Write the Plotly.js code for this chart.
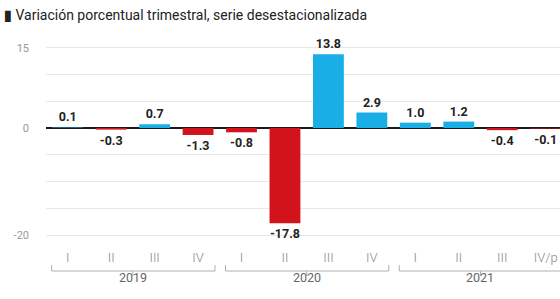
<!DOCTYPE html>
<html><head><meta charset="utf-8">
<script src="https://cdn.plot.ly/plotly-3.0.1.min.js"></script>
<style>html,body{margin:0;padding:0;background:#fff}#c{width:560px;height:299px}</style>
</head><body><div id="c"></div>
<script>
const quarters = ['I','II','III','IV','I','II','III','IV','I','II','III','IV/p'];
const values = [0.1,-0.3,0.7,-1.3,-0.8,-17.8,13.8,2.9,1.0,1.2,-0.4,-0.1];
const years = ['2019','2020','2021'];
const labels = ['0.1','-0.3','0.7','-1.3','-0.8','-17.8','13.8','2.9','1.0','1.2','-0.4','-0.1'];
const yTickVals = [-20,-15,-10,-5,0,5,10,15];
const yTickText = ['-20','','','','0','','','15'];

const idx = quarters.map((q,i)=>i);
const colors = values.map(v => v >= 0 ? '#19aee6' : '#d2131c');

const shapes = [];
const annotations = [];
years.forEach((yr, k) => {
  const a = k*4 - 0.37, b = k*4 + 3 + 0.39, mid = k*4 + 1.5;
  const ln = {color:'#b0b0b0', width:1};
  shapes.push({type:'line', xref:'x', yref:'paper', x0:a, x1:b, y0:-0.155, y1:-0.155, line:ln});
  shapes.push({type:'line', xref:'x', yref:'paper', x0:a, x1:a, y0:-0.155, y1:-0.125, line:ln});
  shapes.push({type:'line', xref:'x', yref:'paper', x0:b, x1:b, y0:-0.155, y1:-0.125, line:ln});
  shapes.push({type:'line', xref:'x', yref:'paper', x0:mid, x1:mid, y0:-0.155, y1:-0.18, line:ln});
  annotations.push({text:yr, xref:'x', yref:'paper', x:mid, y:-0.235, showarrow:false,
    font:{family:'Roboto', size:12.5, color:'#666'}});
});

annotations.push({text:'<b>&#9646;</b> Variación porcentual trimestral, serie desestacionalizada',
  xref:'paper', yref:'paper', x:-0.085, y:1.125, xanchor:'left', yanchor:'middle', showarrow:false,
  font:{family:'Roboto', size:14, color:'#222'}});

Plotly.newPlot('c', [{
  type:'bar', x: idx, y: values, marker:{color: colors},
  text: labels, textposition:'outside', cliponaxis:false,
  textfont:{family:'Roboto', size:12.5, color:'#222', weight:'bold'},
  hoverinfo:'none'
}], {
  width:560, height:299,
  margin:{l:46, r:0, t:40, b:59},
  bargap:0.29,
  showlegend:false,
  paper_bgcolor:'#fff', plot_bgcolor:'#fff',
  xaxis:{range:[-0.5,11.33], tickvals: idx, ticktext: quarters, showgrid:false, zeroline:false,
    showline:false, ticks:'', ticklabelstandoff:8,
    tickfont:{family:'Roboto', size:13, color:'#888', weight:300}},
  yaxis:{range:[-20.93,16.45], tickvals:yTickVals, ticktext:yTickText, showgrid:true,
    gridcolor:'#e8e8e8', gridwidth:1, zeroline:true, zerolinecolor:'#1a1a1a', zerolinewidth:1.5,
    ticks:'', ticklabelstandoff:16, tickfont:{family:'Roboto', size:11, color:'#999'}},
  shapes: shapes,
  annotations: annotations
}, {staticPlot:true});
</script></body></html>
